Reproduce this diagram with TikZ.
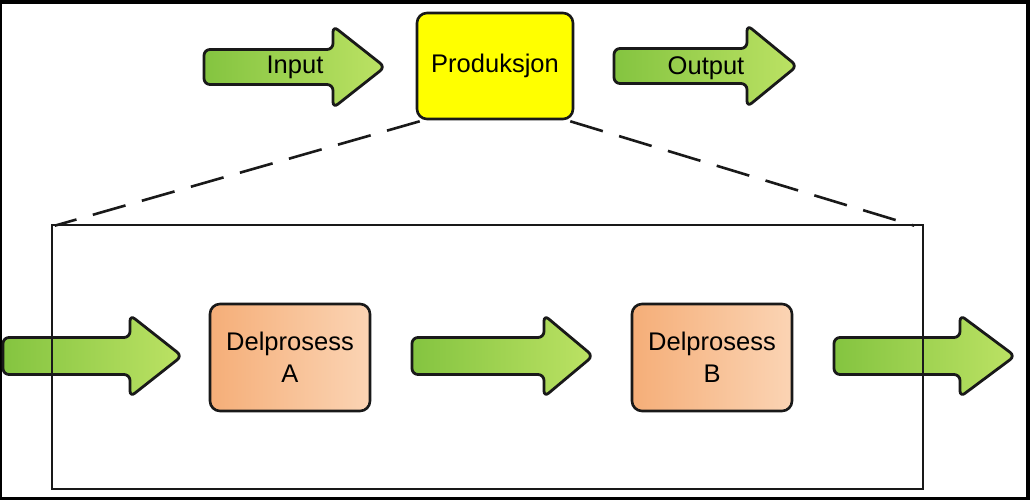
\documentclass[tikz,border=0pt]{standalone}
\usepackage{fontspec}
\setmainfont{Liberation Sans}
\definecolor{gdark}{RGB}{132,196,64}
\definecolor{glight}{RGB}{188,226,100}
\definecolor{odark}{RGB}{245,174,120}
\definecolor{olight}{RGB}{251,212,180}
\definecolor{prodyellow}{RGB}{255,255,0}
\newcommand\greenarrow[5]{% #1 x-left, #2 x-headstart, #3 x-tip, #4 y center, #5 shaft half
  \draw[garrowstyle] (#1,{#4-#5}) -- (#2,{#4-#5}) -- (#2,{#4-41}) -- (#3,#4) -- (#2,{#4+41}) -- (#2,{#4+#5}) -- (#1,{#4+#5}) -- cycle;
}
\begin{document}
\begin{tikzpicture}[x=1pt,y=-1pt,
  every node/.style={font=\fontsize{25.5}{32}\selectfont},
  garrowstyle/.style={line width=2.8pt, rounded corners=6pt, line join=round, left color=gdark, right color=glight, draw=black!90},
  procbox/.style={draw=black!90, line width=2.6pt, rounded corners=10pt, inner sep=0pt, align=center},
  lbl/.style={anchor=base, inner sep=0pt},
  zoomline/.style={line width=2.6pt, dash pattern=on 34pt off 17pt, black!90}
]
\useasboundingbox (0,0) rectangle (1030,500);
\fill[black] (0,0) rectangle (1030,500);
\fill[white] (2,4) rectangle (1026,497);

% top row
\greenarrow{204}{333}{385}{67}{17.5}
\node[lbl] (input) at (295,74) {Input};
\node[procbox, fill=prodyellow, minimum width=156pt, minimum height=106pt] (prod) at (495,66) {Produksjon};
\greenarrow{614}{747}{797}{66}{17.5}
\node[lbl] (output) at (706,75) {Output};

% lower row arrows
\greenarrow{3}{130}{182}{356}{18.5}
\greenarrow{412}{544}{593}{356}{18.5}
\greenarrow{834}{960}{1015}{356}{18.5}

% sub-process boxes
\node[procbox, left color=odark, right color=olight, minimum width=160pt, minimum height=107pt] (dA) at (290,357.5) {Delprosess\\A};
\node[procbox, left color=odark, right color=olight, minimum width=160pt, minimum height=107pt] (dB) at (712,357.5) {Delprosess\\B};

% expanded box
\node[draw=black!90, line width=2.6pt, minimum width=871pt, minimum height=264pt, inner sep=0pt] (big) at (487.5,357) {};

% zoom lines
\coordinate (pl) at ([xshift=4pt,yshift=-1pt]prod.south west);
\coordinate (pr) at ([xshift=-4pt,yshift=-1pt]prod.south east);
\draw[zoomline] (pl) -- ([xshift=4pt,yshift=-2pt]big.north west);
\draw[zoomline] (pr) -- ([xshift=-10pt,yshift=-2pt]big.north east);
\end{tikzpicture}
\end{document}
